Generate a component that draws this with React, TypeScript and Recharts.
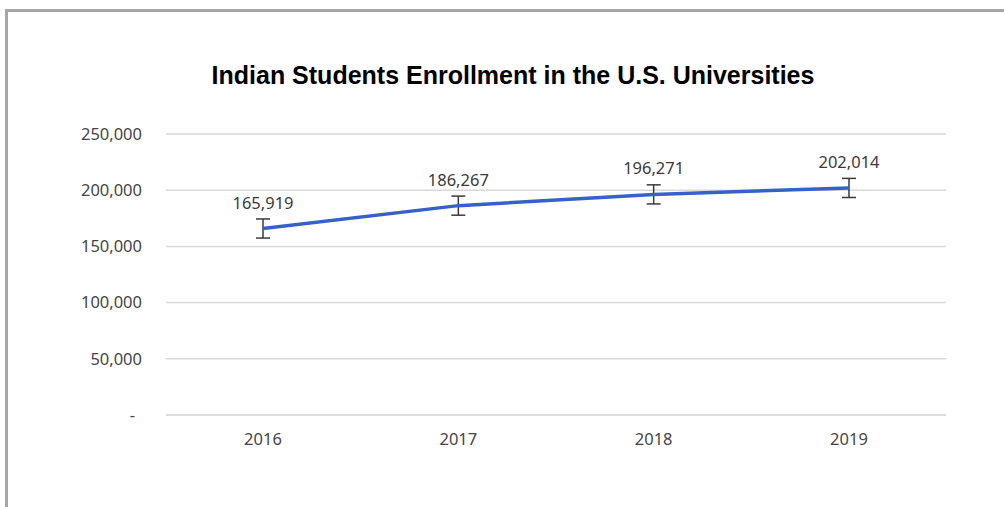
import React from 'react';
import { LineChart, Line, XAxis, YAxis, CartesianGrid, ErrorBar, LabelList } from 'recharts';

const years = ['2016', '2017', '2018', '2019'];
const enrollment = [165919, 186267, 196271, 202014];
const errorAmount = [8500, 8500, 8500, 8500];
const yTicks = [0, 50000, 100000, 150000, 200000, 250000];

const data = years.map((year, i) => ({ year, value: enrollment[i], err: errorAmount[i] }));

const fmt = (v: number) => v.toLocaleString('en-US');
const labelFont = '"Noto Sans", "Open Sans", sans-serif';
const labelSize = 16.5;
const textColor = '#454545';

// Excel accounting style: zero shows as a dash, pushed left a bit
const YTick = (props: any) => {
  const { x, y, payload } = props;
  const isZero = payload.value === 0;
  return (
    <text
      x={isZero ? x - 7 : x}
      y={y}
      dy="0.35em"
      textAnchor="end"
      fill={textColor}
      fontSize={labelSize}
      fontFamily={labelFont}
    >
      {isZero ? '-' : fmt(payload.value)}
    </text>
  );
};

export default function App() {
  return (
    <div style={{ position: 'absolute', left: 0, top: 0, width: 1004, height: 507, background: '#fff', overflow: 'hidden' }}>
      <div
        style={{
          position: 'absolute',
          left: 5,
          top: 9,
          width: 1100,
          height: 600,
          border: '3px solid #a6a6a6',
        }}
      />
      <div
        style={{
          position: 'absolute',
          left: 0,
          top: 59,
          width: 1026,
          textAlign: 'center',
          fontFamily: '"Liberation Sans", Arial, sans-serif',
          fontWeight: 'bold',
          fontSize: 25,
          lineHeight: '32px',
          color: '#000',
        }}
      >
        Indian Students Enrollment in the U.S. Universities
      </div>
      <div style={{ position: 'absolute', left: 0, top: 0 }}>
        <LineChart width={1004} height={507} data={data} margin={{ top: 134, right: 58, bottom: 62, left: 0 }}>
          <CartesianGrid vertical={false} stroke="#d9d9d9" strokeWidth={1.5} />
          <XAxis
            dataKey="year"
            padding={{ left: 97, right: 97 }}
            axisLine={{ stroke: '#d9d9d9', strokeWidth: 1.5 }}
            tickLine={false}
            tickSize={0}
            tickMargin={18}
            height={30}
            tick={{ fill: textColor, fontSize: labelSize, fontFamily: labelFont }}
          />
          <YAxis
            width={166}
            domain={[0, 250000]}
            ticks={yTicks}
            axisLine={false}
            tickLine={false}
            tickSize={0}
            tickMargin={24}
            tick={<YTick />}
          />
          <Line
            dataKey="value"
            type="linear"
            stroke="#3561c9"
            strokeWidth={3.5}
            dot={false}
            activeDot={false}
            isAnimationActive={false}
          >
            <ErrorBar dataKey="err" width={7} stroke="#3a3a3a" strokeWidth={1.5} direction="y" />
            <LabelList
              dataKey="value"
              position="top"
              offset={20}
              formatter={(v: any) => fmt(Number(v))}
              fill="#3a3a3a"
              fontSize={labelSize}
              fontFamily={labelFont}
            />
          </Line>
        </LineChart>
      </div>
    </div>
  );
}
